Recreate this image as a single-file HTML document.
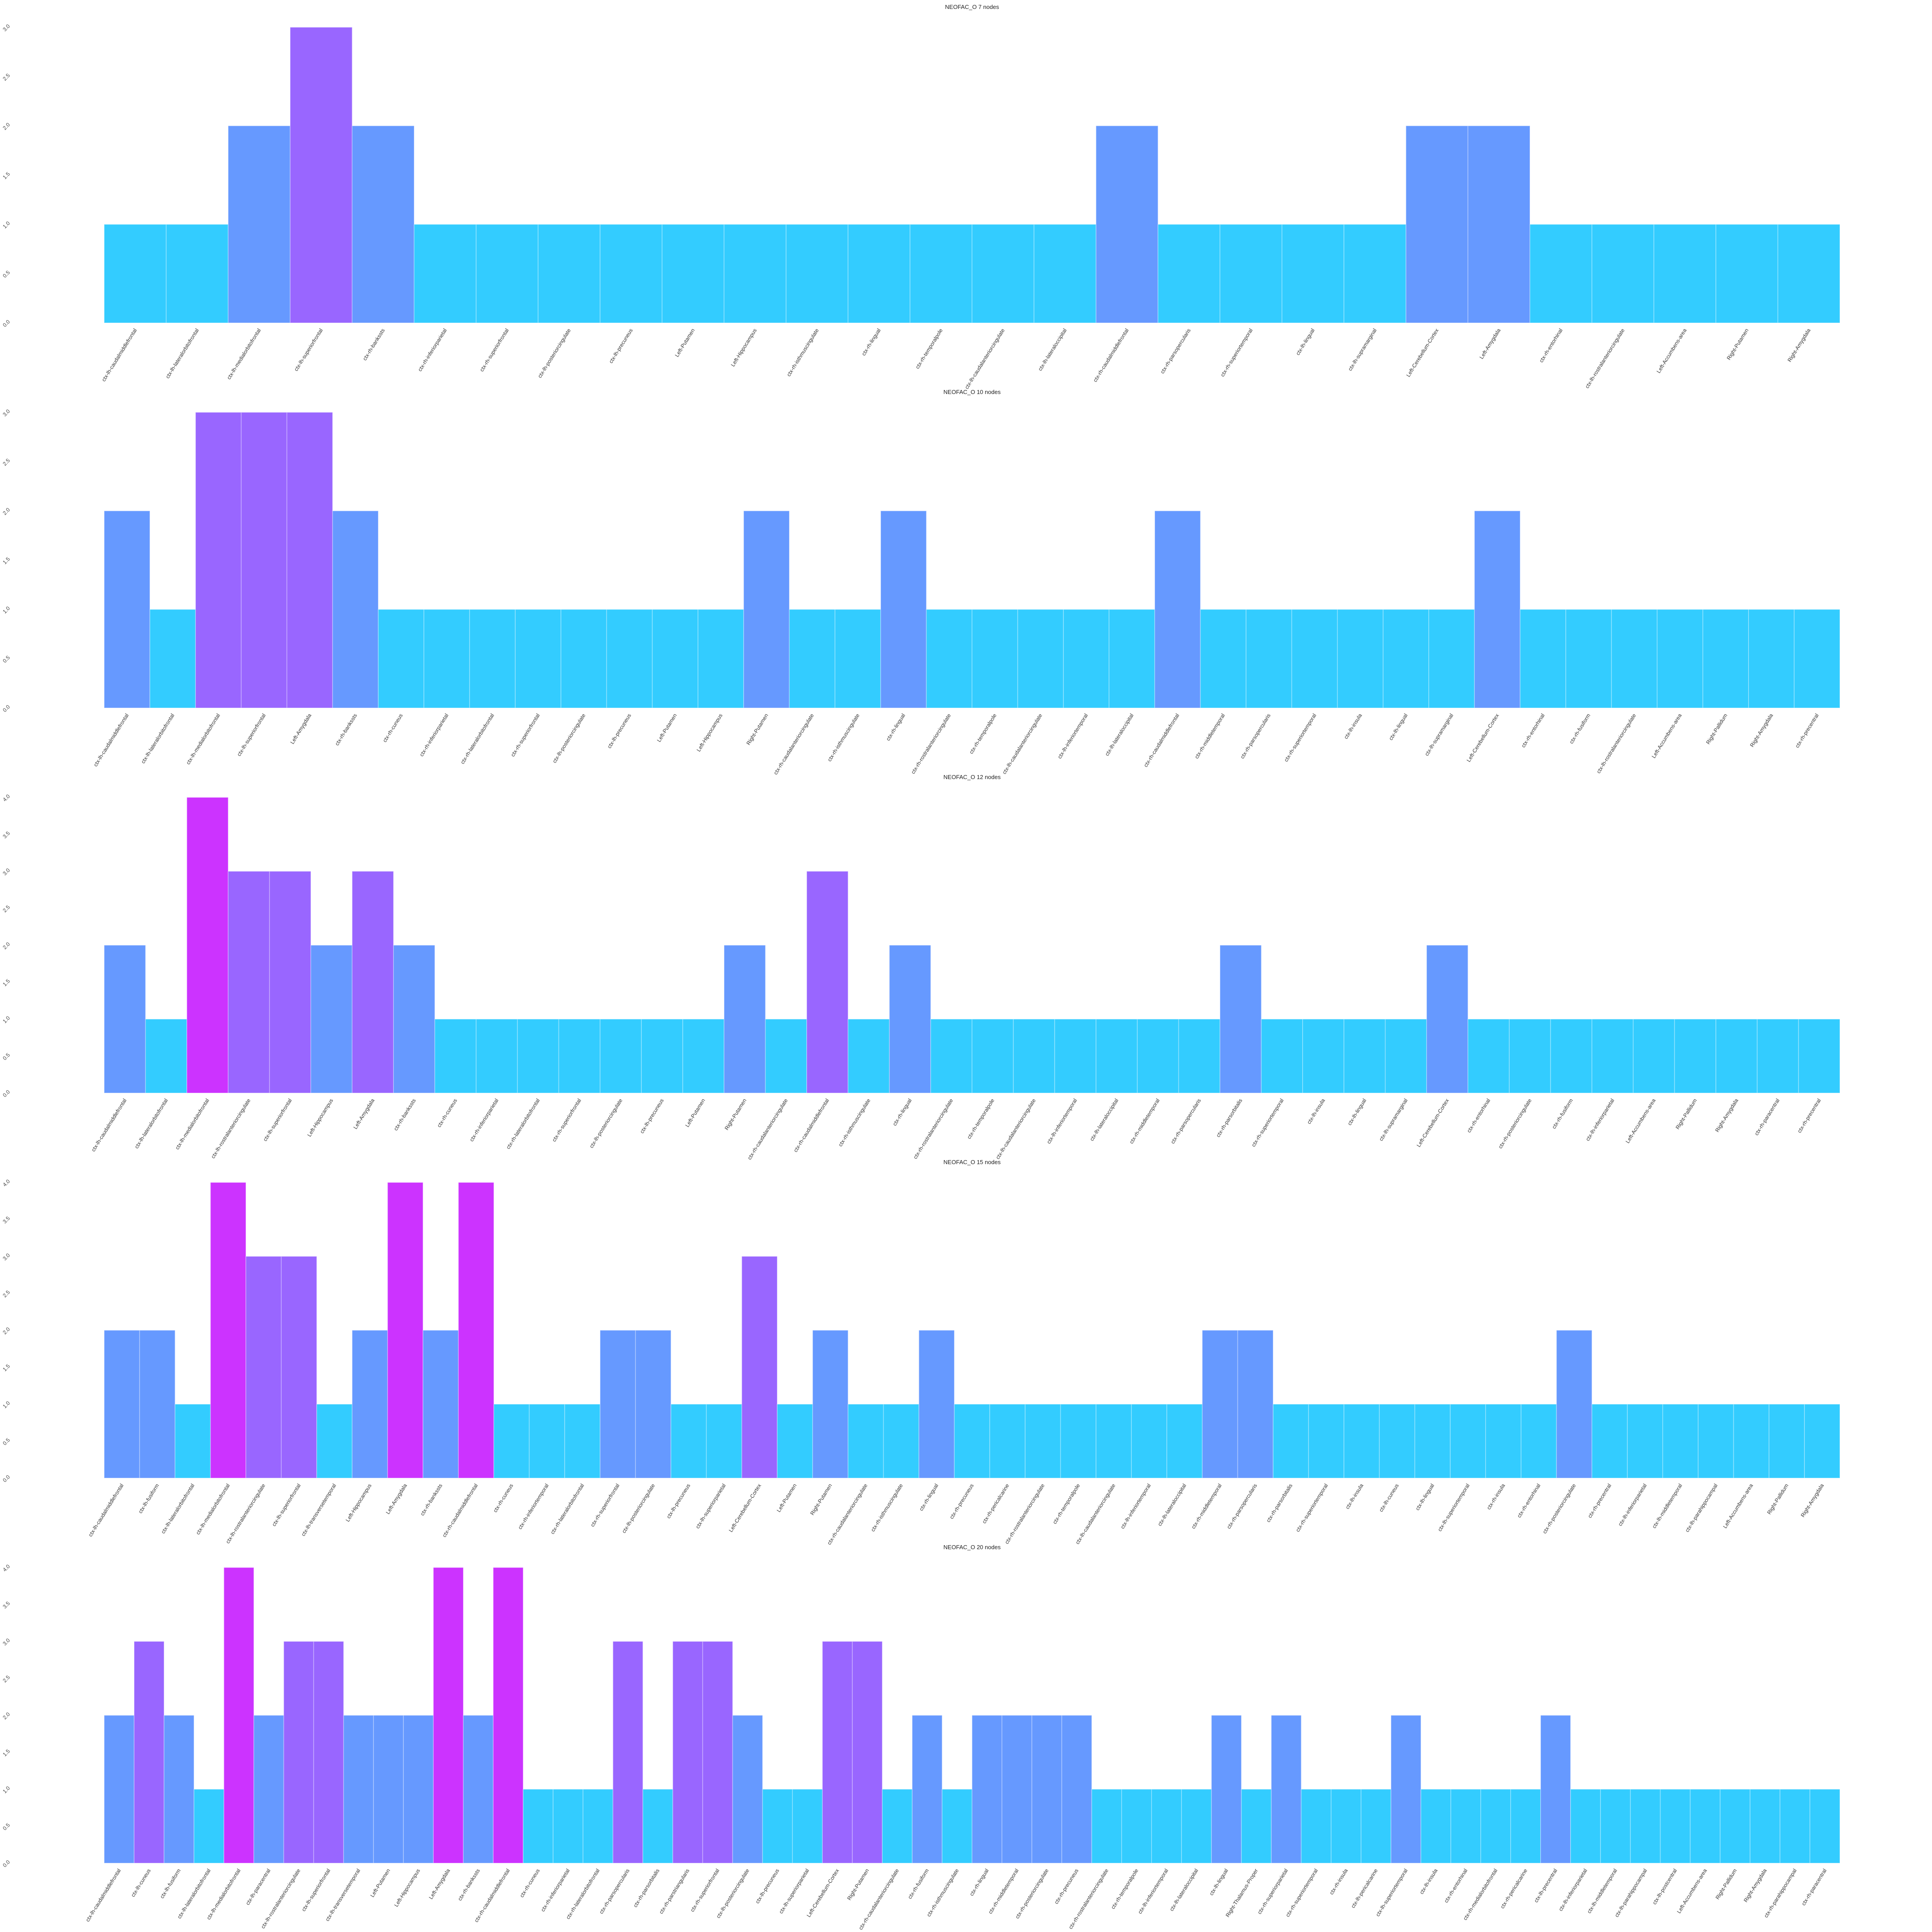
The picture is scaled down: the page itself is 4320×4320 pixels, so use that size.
<!DOCTYPE html>
<html><head><meta charset="utf-8">
<style>
html,body{margin:0;padding:0;background:#fff;}
svg{display:block;font-family:"Liberation Sans",sans-serif;}
</style></head>
<body>
<svg id="fig" width="4320" height="4320" viewBox="0 0 4320 4320" xmlns="http://www.w3.org/2000/svg"></svg>
<script>
const titles = ["NEOFAC_O 7 nodes","NEOFAC_O 10 nodes","NEOFAC_O 12 nodes","NEOFAC_O 15 nodes","NEOFAC_O 20 nodes"];

const labels7 = ["ctx-lh-caudalmiddlefrontal","ctx-lh-lateralorbitofrontal","ctx-lh-medialorbitofrontal","ctx-lh-superiorfrontal","ctx-rh-bankssts","ctx-rh-inferiorparietal","ctx-rh-superiorfrontal","ctx-lh-posteriorcingulate","ctx-lh-precuneus","Left-Putamen","Left-Hippocampus","ctx-rh-isthmuscingulate","ctx-rh-lingual","ctx-rh-temporalpole","ctx-lh-caudalanteriorcingulate","ctx-lh-lateraloccipital","ctx-rh-caudalmiddlefrontal","ctx-rh-parsopercularis","ctx-rh-superiortemporal","ctx-lh-lingual","ctx-lh-supramarginal","Left-Cerebellum-Cortex","Left-Amygdala","ctx-rh-entorhinal","ctx-lh-rostralanteriorcingulate","Left-Accumbens-area","Right-Putamen","Right-Amygdala"];
const values7 = [1,1,2,3,2,1,1,1,1,1,1,1,1,1,1,1,2,1,1,1,1,2,2,1,1,1,1,1];

const labels10 = ["ctx-lh-caudalmiddlefrontal","ctx-lh-lateralorbitofrontal","ctx-lh-medialorbitofrontal","ctx-lh-superiorfrontal","Left-Amygdala","ctx-rh-bankssts","ctx-rh-cuneus","ctx-rh-inferiorparietal","ctx-rh-lateralorbitofrontal","ctx-rh-superiorfrontal","ctx-lh-posteriorcingulate","ctx-lh-precuneus","Left-Putamen","Left-Hippocampus","Right-Putamen","ctx-rh-caudalanteriorcingulate","ctx-rh-isthmuscingulate","ctx-rh-lingual","ctx-rh-rostralanteriorcingulate","ctx-rh-temporalpole","ctx-lh-caudalanteriorcingulate","ctx-lh-inferiortemporal","ctx-lh-lateraloccipital","ctx-rh-caudalmiddlefrontal","ctx-rh-middletemporal","ctx-rh-parsopercularis","ctx-rh-superiortemporal","ctx-lh-insula","ctx-lh-lingual","ctx-lh-supramarginal","Left-Cerebellum-Cortex","ctx-rh-entorhinal","ctx-rh-fusiform","ctx-lh-rostralanteriorcingulate","Left-Accumbens-area","Right-Pallidum","Right-Amygdala","ctx-rh-precentral"];
const values10 = [2,1,3,3,3,2,1,1,1,1,1,1,1,1,2,1,1,2,1,1,1,1,1,2,1,1,1,1,1,1,2,1,1,1,1,1,1,1];

const labels12 = ["ctx-lh-caudalmiddlefrontal","ctx-lh-lateralorbitofrontal","ctx-lh-medialorbitofrontal","ctx-lh-rostralanteriorcingulate","ctx-lh-superiorfrontal","Left-Hippocampus","Left-Amygdala","ctx-rh-bankssts","ctx-rh-cuneus","ctx-rh-inferiorparietal","ctx-rh-lateralorbitofrontal","ctx-rh-superiorfrontal","ctx-lh-posteriorcingulate","ctx-lh-precuneus","Left-Putamen","Right-Putamen","ctx-rh-caudalanteriorcingulate","ctx-rh-caudalmiddlefrontal","ctx-rh-isthmuscingulate","ctx-rh-lingual","ctx-rh-rostralanteriorcingulate","ctx-rh-temporalpole","ctx-lh-caudalanteriorcingulate","ctx-lh-inferiortemporal","ctx-lh-lateraloccipital","ctx-rh-middletemporal","ctx-rh-parsopercularis","ctx-rh-parsorbitalis","ctx-rh-superiortemporal","ctx-lh-insula","ctx-lh-lingual","ctx-lh-supramarginal","Left-Cerebellum-Cortex","ctx-rh-entorhinal","ctx-rh-posteriorcingulate","ctx-rh-fusiform","ctx-lh-inferiorparietal","Left-Accumbens-area","Right-Pallidum","Right-Amygdala","ctx-rh-paracentral","ctx-rh-precentral"];
const values12 = [2,1,4,3,3,2,3,2,1,1,1,1,1,1,1,2,1,3,1,2,1,1,1,1,1,1,1,2,1,1,1,1,2,1,1,1,1,1,1,1,1,1];

const labels15 = ["ctx-lh-caudalmiddlefrontal","ctx-lh-fusiform","ctx-lh-lateralorbitofrontal","ctx-lh-medialorbitofrontal","ctx-lh-rostralanteriorcingulate","ctx-lh-superiorfrontal","ctx-lh-transversetemporal","Left-Hippocampus","Left-Amygdala","ctx-rh-bankssts","ctx-rh-caudalmiddlefrontal","ctx-rh-cuneus","ctx-rh-inferiortemporal","ctx-rh-lateralorbitofrontal","ctx-rh-superiorfrontal","ctx-lh-posteriorcingulate","ctx-lh-precuneus","ctx-lh-superiorparietal","Left-Cerebellum-Cortex","Left-Putamen","Right-Putamen","ctx-rh-caudalanteriorcingulate","ctx-rh-isthmuscingulate","ctx-rh-lingual","ctx-rh-precuneus","ctx-rh-pericalcarine","ctx-rh-rostralanteriorcingulate","ctx-rh-temporalpole","ctx-lh-caudalanteriorcingulate","ctx-lh-inferiortemporal","ctx-lh-lateraloccipital","ctx-rh-middletemporal","ctx-rh-parsopercularis","ctx-rh-parsorbitalis","ctx-rh-superiortemporal","ctx-lh-insula","ctx-lh-cuneus","ctx-lh-lingual","ctx-lh-superiortemporal","ctx-rh-insula","ctx-rh-entorhinal","ctx-rh-posteriorcingulate","ctx-rh-precentral","ctx-lh-inferiorparietal","ctx-lh-middletemporal","ctx-lh-parahippocampal","Left-Accumbens-area","Right-Pallidum","Right-Amygdala"];
const values15 = [2,2,1,4,3,3,1,2,4,2,4,1,1,1,2,2,1,1,3,1,2,1,1,2,1,1,1,1,1,1,1,2,2,1,1,1,1,1,1,1,1,2,1,1,1,1,1,1,1];

const labels20 = ["ctx-lh-caudalmiddlefrontal","ctx-lh-cuneus","ctx-lh-fusiform","ctx-lh-lateralorbitofrontal","ctx-lh-medialorbitofrontal","ctx-lh-paracentral","ctx-lh-rostralanteriorcingulate","ctx-lh-superiorfrontal","ctx-lh-transversetemporal","Left-Putamen","Left-Hippocampus","Left-Amygdala","ctx-rh-bankssts","ctx-rh-caudalmiddlefrontal","ctx-rh-cuneus","ctx-rh-inferiorparietal","ctx-rh-lateralorbitofrontal","ctx-rh-parsopercularis","ctx-rh-parsorbitalis","ctx-rh-parstriangularis","ctx-rh-superiorfrontal","ctx-lh-posteriorcingulate","ctx-lh-precuneus","ctx-lh-superiorparietal","Left-Cerebellum-Cortex","Right-Putamen","ctx-rh-caudalanteriorcingulate","ctx-rh-fusiform","ctx-rh-isthmuscingulate","ctx-rh-lingual","ctx-rh-middletemporal","ctx-rh-posteriorcingulate","ctx-rh-precuneus","ctx-rh-rostralanteriorcingulate","ctx-rh-temporalpole","ctx-lh-inferiortemporal","ctx-lh-lateraloccipital","ctx-lh-lingual","Right-Thalamus-Proper","ctx-rh-superiorparietal","ctx-rh-superiortemporal","ctx-rh-insula","ctx-lh-pericalcarine","ctx-lh-superiortemporal","ctx-lh-insula","ctx-rh-entorhinal","ctx-rh-medialorbitofrontal","ctx-rh-pericalcarine","ctx-lh-precentral","ctx-lh-inferiorparietal","ctx-lh-middletemporal","ctx-lh-parahippocampal","ctx-lh-postcentral","Left-Accumbens-area","Right-Pallidum","Right-Amygdala","ctx-rh-parahippocampal","ctx-rh-paracentral"];
const values20 = [2,3,2,1,4,2,3,3,2,2,2,4,2,4,1,1,1,3,1,3,3,2,1,1,3,3,1,2,1,2,2,2,2,1,1,1,1,2,1,2,1,1,1,2,1,1,1,1,2,1,1,1,1,1,1,1,1,1];

const allLabels = [labels7, labels10, labels12, labels15, labels20];
const allValues = [values7, values10, values12, values15, values20];

const NS = "http://www.w3.org/2000/svg";
const svg = document.getElementById("fig");
const X0 = 233, X1 = 4114, H = 661, TOP0 = 61, STEP = 861;
const colors = {1:"#33ccff",2:"#6699ff",3:"#9966ff",4:"#cc33ff"};
function mk(tag, attrs, parent){const e=document.createElementNS(NS,tag);for(const k in attrs)e.setAttribute(k,attrs[k]);parent.appendChild(e);return e;}

allValues.forEach((vals, p) => {
  const labs = allLabels[p];
  const top = TOP0 + p*STEP, bot = top + H;
  const vmax = Math.max(...vals);
  const yS = v => bot - v/vmax*H;
  const bw = (X1-X0)/vals.length;
  const xS = i => X0 + i*bw;
  const g = mk("g", {}, svg);
  
  
  const t = mk("text", {x:(X0+X1)/2, y:top-41, "text-anchor":"middle", "font-size":"13", fill:"#222"}, g);
  t.textContent = titles[p];
  
  
  for (let tv = 0; tv <= vmax + 1e-9; tv += 0.5) {
    const yt = yS(tv);
    const tx = mk("text", {x:0, y:0, "text-anchor":"middle", "font-size":"12", fill:"#444", transform:`translate(17,${yt+4}) rotate(-45)`}, g);
    tx.textContent = tv.toFixed(1);
    
    
  }
  vals.forEach((v, i) => {
    const r = mk("rect", {x:xS(i), y:yS(v), width:bw, height:bot-yS(v), fill:colors[v]||"#cc33ff", stroke:"#ffffff", "stroke-opacity":"0.35", "stroke-width":"1.5"}, g);
    
    
    const cx = xS(i) + bw/2;
    const lt = mk("text", {x:0, y:0, "text-anchor":"end", "font-size":"12", fill:"#333", transform:`translate(${cx+4},${bot+16}) rotate(-58)`}, g);
    lt.textContent = labs[i] || "";
    
    
  });
});
</script>
</body></html>
